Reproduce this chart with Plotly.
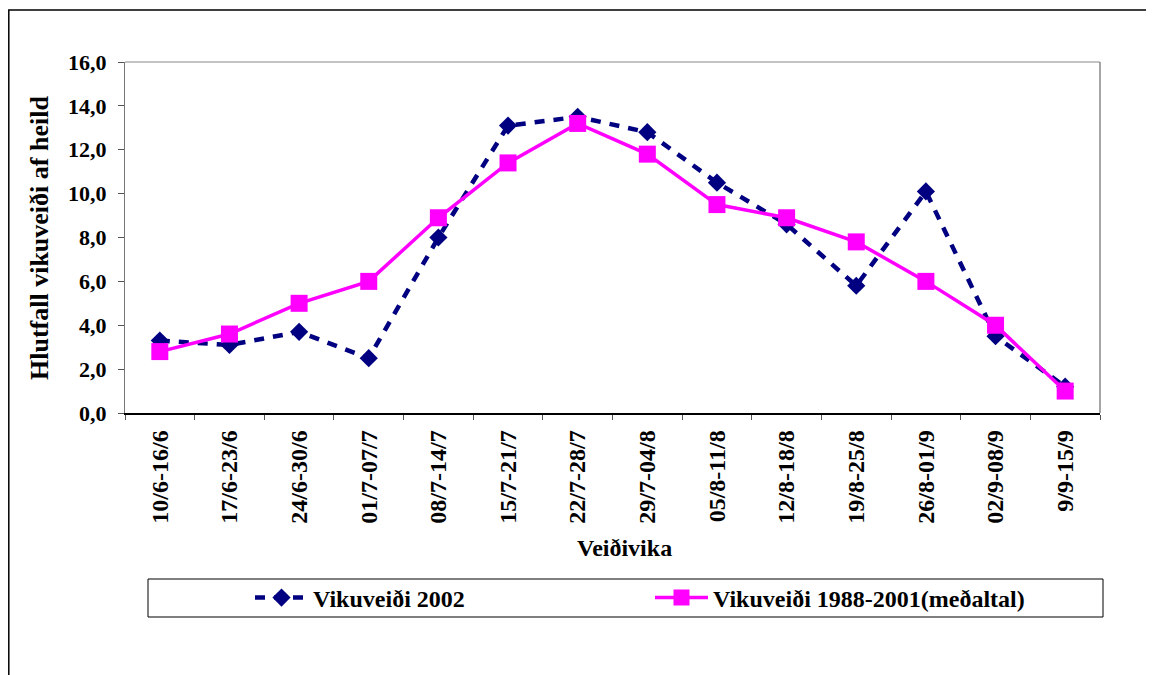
import plotly.graph_objects as go

categories = ["10/6-16/6", "17/6-23/6", "24/6-30/6", "01/7-07/7", "08/7-14/7", "15/7-21/7",
              "22/7-28/7", "29/7-04/8", "05/8-11/8", "12/8-18/8", "19/8-25/8", "26/8-01/9",
              "02/9-08/9", "9/9-15/9"]
vikuveidi_2002 = [3.3, 3.1, 3.7, 2.5, 8.0, 13.1, 13.5, 12.8, 10.5, 8.6, 5.8, 10.1, 3.5, 1.2]
vikuveidi_avg = [2.8, 3.6, 5.0, 6.0, 8.9, 11.4, 13.2, 11.8, 9.5, 8.9, 7.8, 6.0, 4.0, 1.0]
y_ticks = [0, 2, 4, 6, 8, 10, 12, 14, 16]
y_ticklabels = ["0,0", "2,0", "4,0", "6,0", "8,0", "10,0", "12,0", "14,0", "16,0"]

FONT = "Liberation Serif, Times New Roman, serif"
OFF = 8  # page body margin
W, H = 1154 - OFF, 675 - OFF
ML = 125 - OFF
MT = 62 - OFF
PR = 1100 - OFF
PB = 413 - OFF
MR = W - PR
MB = H - PB
PW = W - ML - MR
PH = H - MT - MB

def px_x(p):
    return (p - OFF - ML) / PW

def px_y(p):
    return (PB - (p - OFF)) / PH

fig = go.Figure()
fig.add_trace(go.Scatter(
    x=categories, y=vikuveidi_2002, name="Vikuveiði 2002", mode="lines+markers",
    line=dict(color="#000080", width=4.5, dash="10px,9px"),
    marker=dict(symbol="diamond", size=14, color="#000080"),
))
fig.add_trace(go.Scatter(
    x=categories, y=vikuveidi_avg, name="Vikuveiði 1988-2001(meðaltal)", mode="lines+markers",
    line=dict(color="#FF00FF", width=3.5),
    marker=dict(symbol="square", size=17, color="#FF00FF"),
))

fig.update_layout(
    width=W, height=H,
    margin=dict(l=ML, r=MR, t=MT, b=MB, pad=0),
    paper_bgcolor="white", plot_bgcolor="white",
    font=dict(family=FONT, color="black"),
    showlegend=True,
    legend=dict(
        orientation="h", x=px_x(250), xanchor="left", y=px_y(598), yanchor="middle",
        font=dict(family=FONT, size=24, color="black", weight="bold"),
        itemwidth=53, entrywidth=332, bgcolor="rgba(0,0,0,0)", borderwidth=0,
    ),
    xaxis=dict(
        type="category", tickangle=-90, tickson="boundaries",
        ticks="outside", ticklen=5, tickcolor="#555", ticklabelstandoff=6,
        showline=True, linecolor="black", linewidth=1.5, mirror=False,
        showgrid=False, zeroline=False,
        tickfont=dict(family=FONT, size=24, color="black", weight="bold"),
        range=[-0.5, 13.5],
    ),
    yaxis=dict(
        range=[0, 16], tickvals=y_ticks, ticktext=y_ticklabels,
        ticks="outside", ticklen=6, tickcolor="#555", ticklabelstandoff=7,
        showline=True, linecolor="#777", linewidth=1, mirror=False,
        showgrid=False, zeroline=False,
        tickfont=dict(family=FONT, size=22, color="black", weight="bold"),
    ),
    annotations=[
        dict(text="Veiðivika", xref="paper", yref="paper", x=px_x(624), y=px_y(548),
             xanchor="center", yanchor="middle", showarrow=False,
             font=dict(family=FONT, size=24, color="black", weight="bold")),
        dict(text="Hlutfall vikuveiði af heild", xref="paper", yref="paper", x=px_x(40), y=px_y(238),
             xanchor="center", yanchor="middle", showarrow=False, textangle=-90,
             font=dict(family=FONT, size=26, color="black", weight="bold")),
    ],
    shapes=[
        dict(type="rect", xref="paper", yref="paper",
             x0=px_x(8.8), x1=px_x(1180), y0=px_y(700), y1=px_y(10),
             line=dict(color="black", width=1.5), fillcolor="rgba(0,0,0,0)", layer="below"),
        dict(type="line", xref="paper", yref="paper", x0=0, x1=1, y0=1, y1=1,
             line=dict(color="#888", width=1)),
        dict(type="line", xref="paper", yref="paper", x0=1, x1=1, y0=0, y1=1,
             line=dict(color="#888", width=1.5)),
        dict(type="rect", xref="paper", yref="paper",
             x0=px_x(148), x1=px_x(1103), y0=px_y(617), y1=px_y(579),
             line=dict(color="black", width=1), fillcolor="rgba(0,0,0,0)"),
    ],
)

fig.write_html("out.html")
